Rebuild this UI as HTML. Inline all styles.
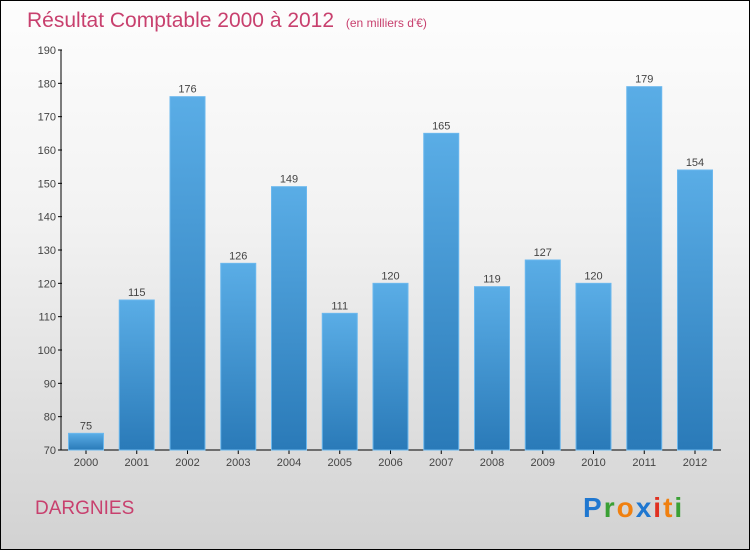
<!DOCTYPE html>
<html><head><meta charset="utf-8">
<style>
body{margin:0;}
#wrap{position:relative;width:748px;height:548px;border:1px solid #000;background:linear-gradient(#fdfdfd,#f2f2f2 40%,#d2d2d2);font-family:"Liberation Sans",sans-serif;overflow:hidden;}
</style></head><body>
<div id="wrap">
<svg width="748" height="548">
<defs><linearGradient id="bg" x1="0" y1="0" x2="0" y2="1"><stop offset="0" stop-color="#5aade6"/><stop offset="1" stop-color="#2a7ab8"/></linearGradient></defs>
<text x="26" y="26" font-size="21" fill="#c8406e">Résultat Comptable 2000 à 2012 <tspan font-size="12" dx="6">(en milliers d'€)</tspan></text>
<g id="axes"></g><g id="bars"></g>
<text x="34" y="513" font-size="19" fill="#c8406e">DARGNIES</text>
<g font-size="28" font-weight="bold" font-family="Liberation Sans, sans-serif" letter-spacing="2">
<text x="582" y="516"><tspan fill="#1f77d0">P</tspan><tspan fill="#3aa035">r</tspan><tspan fill="#f08010">o</tspan><tspan fill="#1f77d0">x</tspan><tspan fill="#e03020">i</tspan><tspan fill="#f08010">t</tspan><tspan fill="#3aa035">i</tspan></text></g>
</svg></div>
<script>
const categories=["2000","2001","2002","2003","2004","2005","2006","2007","2008","2009","2010","2011","2012"];
const values=[75,115,176,126,149,111,120,165,119,127,120,179,154];
const ticks=[70,80,90,100,110,120,130,140,150,160,170,180,190];
const NS="http://www.w3.org/2000/svg";
const y0=449,yMin=70,yMax=190,yTop=49;
function y(v){return y0-(v-yMin)*(y0-yTop)/(yMax-yMin);}
function x(i){return 85+i*50.75;}
function mk(t,a,p){const e=document.createElementNS(NS,t);for(const k in a)e.setAttribute(k,a[k]);p.appendChild(e);return e;}
const ax=document.getElementById('axes'),bs=document.getElementById('bars');
const yl=mk('line',{x1:60,y1:yTop,x2:60,y2:y0,stroke:'#000'},ax);


const xl=mk('line',{x1:60,y1:y0,x2:720,y2:y0,stroke:'#000'},ax);


ticks.forEach(t=>{
 mk('line',{x1:57,y1:y(t),x2:61,y2:y(t),stroke:'#000'},ax);
 const tx=mk('text',{x:55,y:y(t)+4,'font-size':11,fill:'#444','text-anchor':'end'},ax);
 tx.textContent=t;
 
 
});
categories.forEach((c,i)=>{
 const v=values[i];
 const r=mk('rect',{x:x(i)-17.5,y:y(v),width:35,height:y0-y(v),fill:'url(#bg)',stroke:'#6bb8ee','stroke-width':1},bs);
 
 
 const vl=mk('text',{x:x(i),y:y(v)-4,'font-size':11,fill:'#444','text-anchor':'middle'},bs);
 vl.textContent=v;
 
 
 mk('line',{x1:x(i),y1:y0,x2:x(i),y2:y0+4,stroke:'#000'},ax);
 const cl=mk('text',{x:x(i),y:y0+16,'font-size':11,fill:'#444','text-anchor':'middle'},ax);
 cl.textContent=c;
 
 
});
</script>
</body></html>
